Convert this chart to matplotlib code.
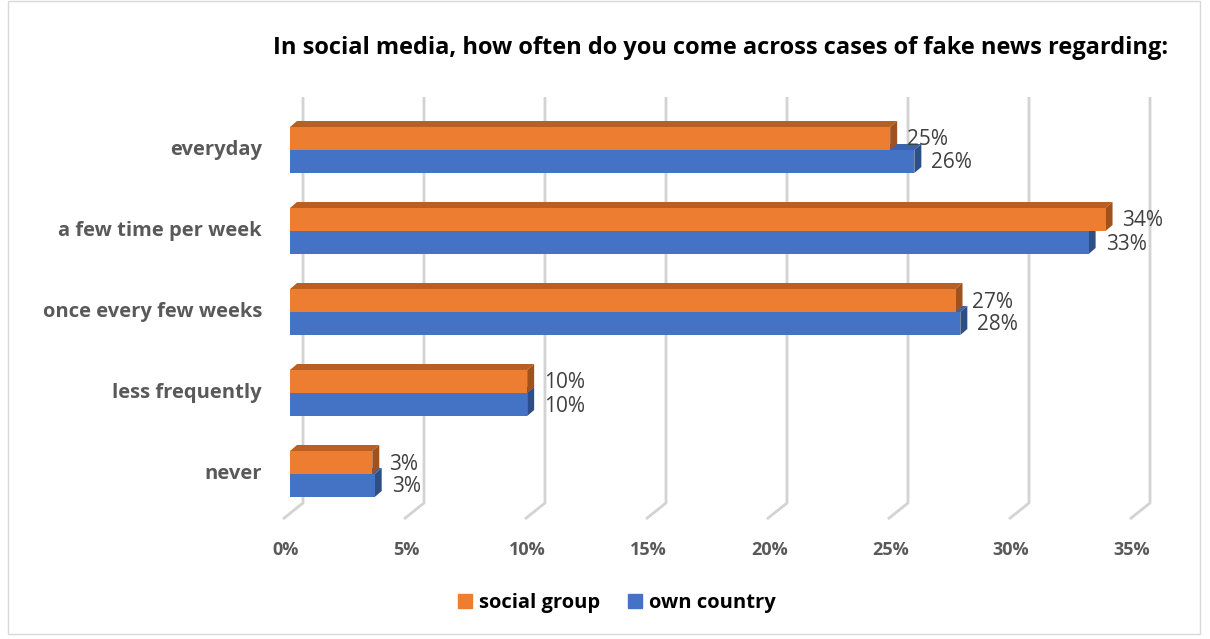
import matplotlib
matplotlib.use("Agg")
import matplotlib.pyplot as plt
from matplotlib.patches import Polygon, Rectangle

categories = ["everyday", "a few time per week", "once every few weeks", "less frequently", "never"]
social_group = [24.8, 33.7, 27.5, 9.8, 3.4]
own_country = [25.8, 33.0, 27.7, 9.8, 3.5]
social_labels = ["25%", "34%", "27%", "10%", "3%"]
own_labels = ["26%", "33%", "28%", "10%", "3%"]
ticks = [0, 5, 10, 15, 20, 25, 30, 35]

orange = ("#ED7D31", "#B95F24", "#A0511D")
blue = ("#4472C4", "#3A63AD", "#2E4E86")

W, H = 1210, 639
px_x = 24.2   # pixels per percent
px_y = 81.0   # pixels per category

plt.rcParams['font.family'] = ['Open Sans', 'DejaVu Sans']
fig = plt.figure(figsize=(W / 100, H / 100), dpi=100)
fig.patches.append(Rectangle((8 / W, 5 / H), 1192 / W, 633 / H, transform=fig.transFigure,
                             fill=False, edgecolor="#D9D9D9", lw=1))

# axes: x = percent (front plane), y = category index (never = 0)
left = 290 / W
width = 35 * px_x / W
bottom = 1 - (474 + 0.5 * px_y) / H
height = 5 * px_y / H
ax = fig.add_axes([left, bottom, width, height])
ax.set_xlim(0, 35)
ax.set_ylim(-0.5, 4.5)
ax.axis("off")

n = len(categories)
ypos = [n - 1 - i for i in range(n)]
h = 23 / px_y
dx, dy = 7 / px_x, 6 / px_y

# back wall gridlines with floor edge
bx = 13 / px_x
for t in ticks:
    ax.plot([t + bx, t + bx, t - 7 / px_x], [(474 - 97) / px_y, (474 - 503) / px_y, (474 - 519) / px_y],
            color="#D3D3D3", lw=2, zorder=1, clip_on=False, solid_capstyle="butt")
    ax.text(t - 0.2, (474 - 550) / px_y, f"{t}%", ha="center", va="center",
            fontsize=13, fontweight="bold", color="#595959")


def bar3d(vals, ys, cols, z):
    ax.barh(ys, vals, height=h, color=cols[0], zorder=z + 1, lw=0)
    for v, y in zip(vals, ys):
        yt, yb = y + h / 2, y - h / 2
        ax.add_patch(Polygon([(0, yt), (v, yt), (v + dx, yt + dy), (dx, yt + dy)],
                             closed=True, color=cols[1], zorder=z, lw=0))
        ax.add_patch(Polygon([(v, yb), (v, yt), (v + dx, yt + dy), (v + dx, yb + dy)],
                             closed=True, color=cols[2], zorder=z, lw=0))


bar3d(own_country, [y - h / 2 for y in ypos], blue, 2)
bar3d(social_group, [y + h / 2 for y in ypos], orange, 4)

lab_dy = 1.5 / px_y
for i, y in enumerate(ypos):
    ax.text(social_group[i] + 17 / px_x, y + h / 2 - lab_dy, social_labels[i], va="center", ha="left",
            fontsize=15, color="#404040", zorder=10)
    ax.text(own_country[i] + 17 / px_x, y - h / 2 - lab_dy, own_labels[i], va="center", ha="left",
            fontsize=15, color="#404040", zorder=10)
    ax.text(-28 / px_x, y, categories[i], va="center", ha="right",
            fontsize=14.5, fontweight="bold", color="#595959")

fig.text(721 / W, 1 - 48 / H, "In social media, how often do you come across cases of fake news regarding:",
         ha="center", va="center", fontsize=17, fontweight="bold", color="black")

# legend
handles = [Rectangle((0, 0), 1, 1, color=orange[0]), Rectangle((0, 0), 1, 1, color=blue[0])]
fig.legend(handles, ["social group", "own country"], loc="center", bbox_to_anchor=(617 / W, 1 - 603 / H),
           ncol=2, frameon=False, prop={"weight": "bold", "size": 14.5}, handlelength=0.7, handleheight=0.7,
           handletextpad=0.35, columnspacing=1.4)

fig.savefig("out.png", dpi=100)
